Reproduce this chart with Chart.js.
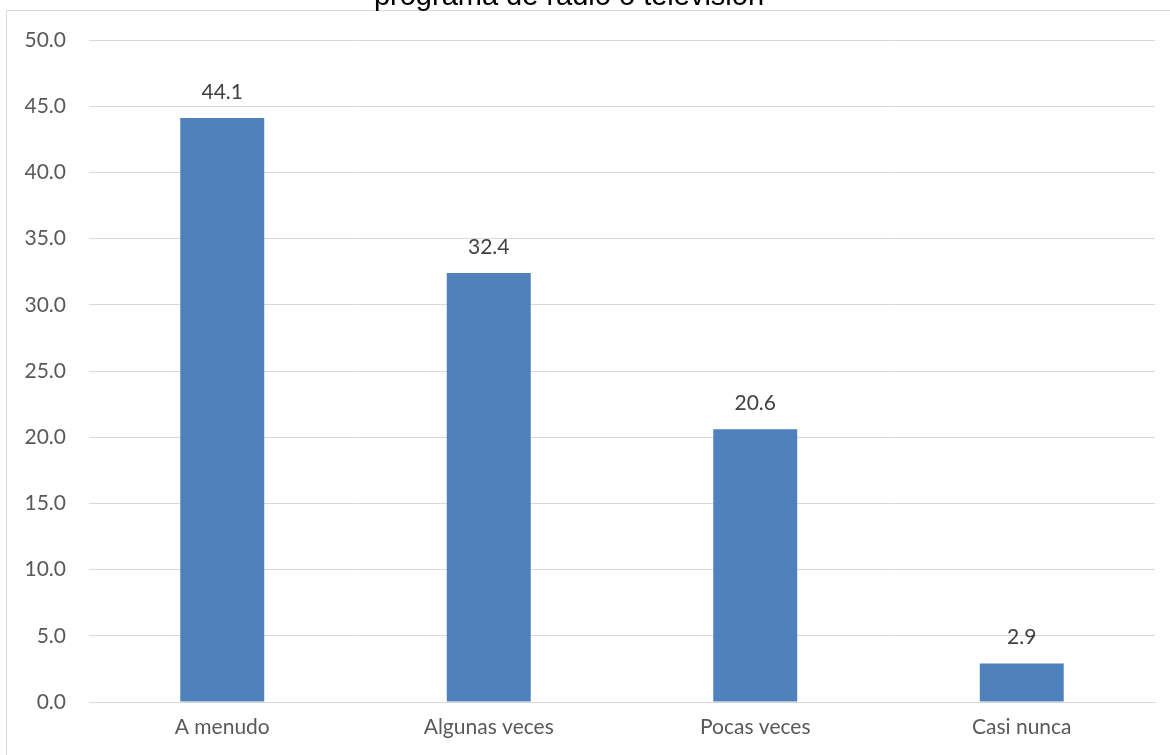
<!DOCTYPE html>
<html>
<head>
<meta charset="utf-8">
<script src="https://cdn.jsdelivr.net/npm/chart.js@4"></script>
<style>
html,body{margin:0;padding:0;background:#fff;}
#wrap{width:1170px;height:755px;position:relative;}
</style>
</head>
<body>
<div id="wrap"><canvas id="c" width="1170" height="755"></canvas></div>
<script>
const categories = ["A menudo", "Algunas veces", "Pocas veces", "Casi nunca"];
const values = [44.1, 32.4, 20.6, 2.9];
const titleText = "programa de radio o televisión";
const FONT = "Lato, 'Open Sans', sans-serif";

const decor = {
  id: 'decor',
  beforeDraw(chart) {
    const ctx = chart.ctx;
    ctx.save();
    ctx.fillStyle = '#fff';
    ctx.fillRect(0, 0, chart.width, chart.height);
    ctx.strokeStyle = '#d9d9d9';
    ctx.lineWidth = 1;
    ctx.strokeRect(6.5, 10.5, 1200, 800);
    ctx.restore();
  },
  afterDatasetsDraw(chart) {
    const ctx = chart.ctx;
    ctx.save();
    ctx.font = "21px " + FONT;
    ctx.fillStyle = '#404040';
    ctx.textAlign = 'center';
    ctx.textBaseline = 'middle';
    const meta = chart.getDatasetMeta(0);
    meta.data.forEach((bar, i) => {
      ctx.fillText(values[i].toFixed(1), bar.x, bar.y - 26);
    });
    ctx.font = "29px 'Liberation Sans', Arial, sans-serif";
    ctx.fillStyle = '#000';
    ctx.textBaseline = 'alphabetic';
    ctx.fillText(titleText, 569, 5);
    ctx.restore();
  }
};

new Chart(document.getElementById('c'), {
  type: 'bar',
  data: {
    labels: categories,
    datasets: [{
      data: values,
      backgroundColor: '#4f81bd',
      borderWidth: 0,
      barPercentage: 0.315,
      categoryPercentage: 1.0
    }]
  },
  options: {
    responsive: false,
    animation: false,
    layout: { padding: { left: 0, right: 15, top: 40, bottom: 0 } },
    plugins: { legend: { display: false }, tooltip: { enabled: false } },
    scales: {
      x: {
        grid: { display: false, drawTicks: false },
        border: { display: true, color: '#d9d9d9', width: 1 },
        ticks: { color: '#595959', font: { size: 21, family: FONT }, padding: 13 },
        afterFit(s) { s.height = 53; }
      },
      y: {
        min: 0, max: 50,
        grid: { color: '#d9d9d9', drawTicks: false },
        border: { display: false },
        ticks: {
          stepSize: 5,
          color: '#595959',
          font: { size: 21, family: FONT },
          padding: 23,
          callback: v => Number(v).toFixed(1)
        },
        afterFit(s) { s.width = 89; }
      }
    }
  },
  plugins: [decor]
});
</script>
</body>
</html>
